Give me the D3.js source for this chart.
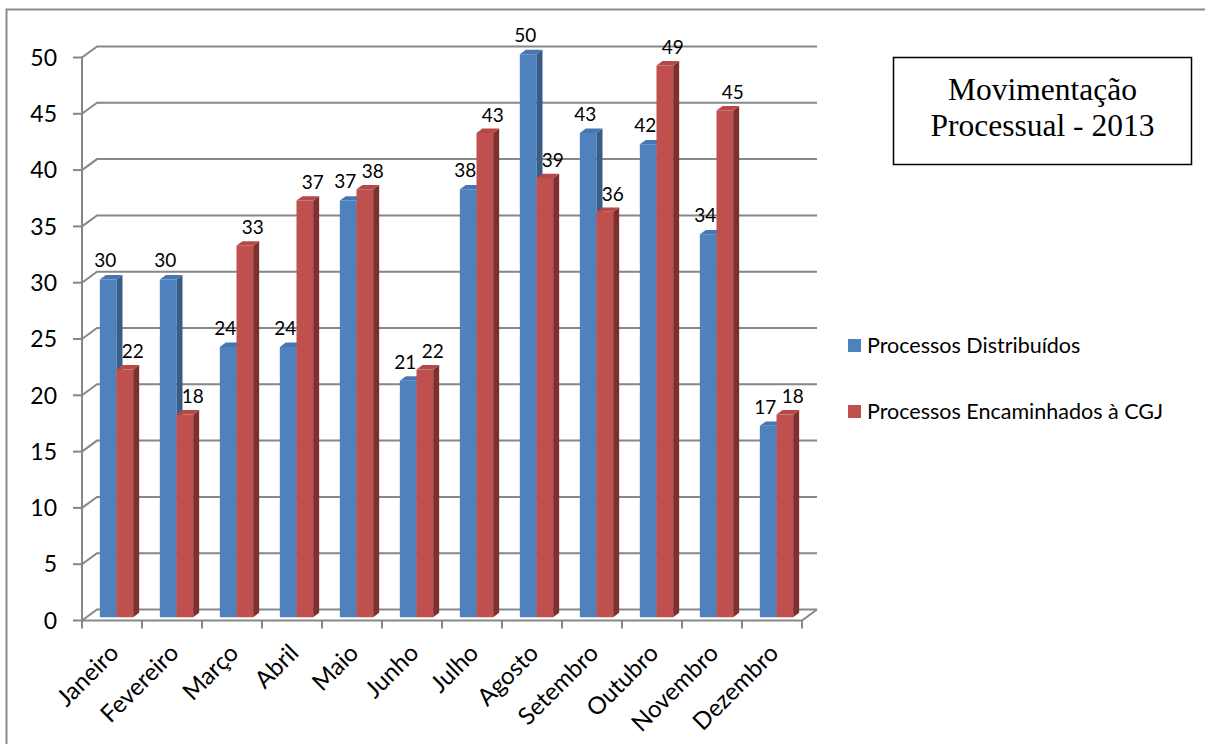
<!DOCTYPE html>
<html>
<head>
<meta charset="utf-8">
<script src="https://cdn.jsdelivr.net/npm/d3@7"></script>
<style>
  html, body { margin: 0; padding: 0; background: #fff; }
  svg { display: block; }
</style>
</head>
<body>
<svg id="chart" width="1205" height="744"></svg>
<script>
// Movimentação processual 2013 — monthly counts
const months = ["Janeiro", "Fevereiro", "Março", "Abril", "Maio", "Junho",
                "Julho", "Agosto", "Setembro", "Outubro", "Novembro", "Dezembro"];
const distribuidos  = [30, 30, 24, 24, 37, 21, 38, 50, 43, 42, 34, 17];
const encaminhados  = [22, 18, 33, 37, 38, 22, 43, 39, 36, 49, 45, 18];
const seriesNames = ["Processos Distribuídos", "Processos Encaminhados à CGJ"];
const yTicks = [0, 5, 10, 15, 20, 25, 30, 35, 40, 45, 50];
const titleLines = ["Movimentação", "Processual - 2013"];

const svg = d3.select("#chart");
const FONT = "Lato, 'Open Sans', sans-serif";

// colours: front face, side face, top face
const palette = [
  { front: "#4f81bd", side: "#385d8a", top: "#4677b4" },
  { front: "#c0504d", side: "#7e302e", top: "#b64946" }
];
const gridColor = "#878787";

// plot geometry (front plane) and 3D depth offset
const left = 82, right = 802;
const depth = { dx: 15, dy: -11 };
const barDepth = [0.3, 0.7];          // bar extent as fractions of wall depth

const y = d3.scaleLinear().domain([0, 50]).range([620.5, 57.5]);
const x = d3.scaleBand().domain(months).range([left, right]).padding(0);
const xs = d3.scaleBand().domain([0, 1]).range([0, x.bandwidth()])
  .paddingInner(0).paddingOuter(0.8);

// outer frame (top and left edges)
svg.append("path")
  .attr("d", "M6.5,744 L6.5,9.5 L1205,9.5")
  .attr("fill", "none").attr("stroke", "#8a8a8a").attr("stroke-width", 2);

// back wall gridlines with side-wall slant
const grid = svg.append("g").attr("fill", "none")
  .attr("stroke", gridColor).attr("stroke-width", 2);
yTicks.forEach(v => {
  const yy = y(v);
  grid.append("path")
    .attr("d", `M${left},${yy} L${left + depth.dx},${yy + depth.dy} L${right + depth.dx},${yy + depth.dy}`);
});
// floor front edge and right edge
grid.append("path")
  .attr("d", `M${left},${y(0)} L${right},${y(0)} L${right + depth.dx},${y(0) + depth.dy}`);

// bars
const bars = svg.append("g");
const f0 = barDepth[0], f1 = barDepth[1];
const ox = depth.dx * f0, oy = depth.dy * f0;
const bx = depth.dx * (f1 - f0), by = depth.dy * (f1 - f0);
const data = [distribuidos, encaminhados];

months.forEach((m, i) => {
  data.forEach((vals, s) => {
    const v = vals[i];
    const x0 = x(m) + xs(s) + ox;
    const x1 = x0 + xs.bandwidth();
    const yt = y(v) + oy;
    const yb = y(0) + oy;
    const c = palette[s];
    // front face
    bars.append("path")
      .attr("d", `M${x0},${yb} L${x0},${yt} L${x1},${yt} L${x1},${yb} Z`)
      .attr("fill", c.front);
    // right side face
    bars.append("path")
      .attr("d", `M${x1},${yb} L${x1},${yt} L${x1 + bx},${yt + by} L${x1 + bx},${yb + by} Z`)
      .attr("fill", c.side);
    // top face
    bars.append("path")
      .attr("d", `M${x0},${yt} L${x0 + bx},${yt + by} L${x1 + bx},${yt + by} L${x1},${yt} Z`)
      .attr("fill", c.top);
  });
});

// value labels
const labelOffset = [{ dx: -3, dy: -19 }, { dx: 8, dy: -18 }];
const labels = svg.append("g")
  .attr("font-family", FONT).attr("font-size", 19).attr("fill", "#000")
  .attr("text-anchor", "middle");
months.forEach((m, i) => {
  data.forEach((vals, s) => {
    const v = vals[i];
    const cx = x(m) + xs(s) + ox + xs.bandwidth() / 2 + labelOffset[s].dx;
    const cy = y(v) + oy + labelOffset[s].dy;
    labels.append("text")
      .attr("x", cx).attr("y", cy).attr("dy", "0.36em")
      .text(v);
  });
});

// y axis
const yAxis = svg.append("g").attr("stroke", gridColor).attr("stroke-width", 2);
yAxis.append("line")
  .attr("x1", left).attr("x2", left).attr("y1", y(50) - 1).attr("y2", y(0) + 1);
yTicks.forEach(v => {
  yAxis.append("line")
    .attr("x1", left - 9).attr("x2", left).attr("y1", y(v)).attr("y2", y(v));
});
svg.append("g")
  .attr("font-family", FONT).attr("font-size", 23).attr("fill", "#000")
  .attr("text-anchor", "end")
  .selectAll("text").data(yTicks).join("text")
  .attr("x", 57).attr("y", d => y(d)).attr("dy", "0.36em")
  .text(d => d);

// x axis ticks
const xTickPos = months.map(m => x(m)).concat([right]);
svg.append("g").attr("stroke", gridColor).attr("stroke-width", 2)
  .selectAll("line").data(xTickPos).join("line")
  .attr("x1", d => d).attr("x2", d => d)
  .attr("y1", y(0)).attr("y2", y(0) + 8);

// month labels rotated 45°
svg.append("g")
  .attr("font-family", FONT).attr("font-size", 24).attr("fill", "#000")
  .attr("text-anchor", "end")
  .selectAll("text").data(months).join("text")
  .attr("transform", d => `translate(${x(d) + x.bandwidth() / 2 + 8},${y(0) + 34}) rotate(-45)`)
  .text(d => d);

// legend
const legend = svg.append("g").attr("font-family", FONT).attr("font-size", 21.5);
seriesNames.forEach((name, s) => {
  const ly = 345.5 + s * 66;
  legend.append("rect")
    .attr("x", 848).attr("y", ly - 6.5).attr("width", 13).attr("height", 13)
    .attr("fill", palette[s].front);
  legend.append("text")
    .attr("x", 867).attr("y", ly).attr("dy", "0.36em").attr("fill", "#000")
    .text(name);
});

// title box
svg.append("rect")
  .attr("x", 893.5).attr("y", 57.5).attr("width", 298).attr("height", 107)
  .attr("fill", "#fff").attr("stroke", "#000").attr("stroke-width", 1.5);
svg.append("g")
  .attr("font-family", "'Liberation Serif', 'Times New Roman', serif")
  .attr("font-size", 31.5).attr("fill", "#000").attr("text-anchor", "middle")
  .selectAll("text").data(titleLines).join("text")
  .attr("x", 1042.5).attr("y", (d, i) => 100 + i * 36)
  .text(d => d);
</script>
</body>
</html>
